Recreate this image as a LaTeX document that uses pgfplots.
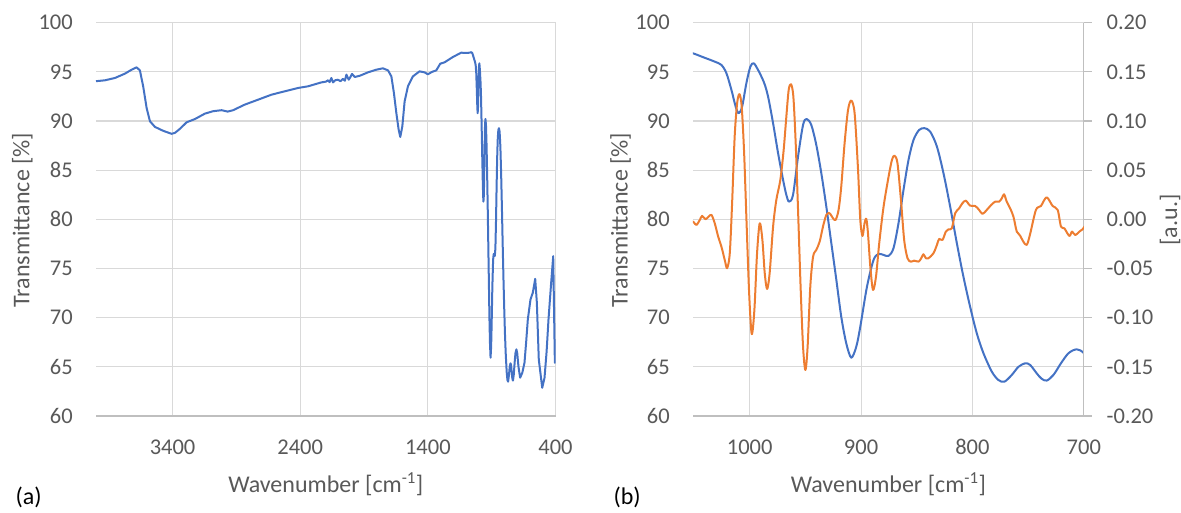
\documentclass[border=0pt]{standalone}
\usepackage{fontspec}
\setmainfont{Carlito}
\usepackage{pgfplots}
\pgfplotsset{compat=1.18}
\usepackage{pgfplotstable}
\definecolor{xlblue}{HTML}{4472C4}
\definecolor{xlorange}{HTML}{ED7D31}
\definecolor{gridc}{HTML}{D9D9D9}
\definecolor{axisc}{HTML}{BFBFBF}
\definecolor{txt}{HTML}{595959}
\newcommand\tickfont{\fontsize{22.5bp}{27bp}\selectfont}
\newcommand\labfont{\fontsize{24bp}{29bp}\selectfont}

\pgfplotstableread{
wn T
4000 94.05
3930 94.14
3851 94.38
3773 94.82
3721 95.22
3682 95.46
3656 95.15
3630 93.5
3603 91.3
3577 89.97
3538 89.4
3473 89.0
3408 88.7
3382 88.79
3343 89.2
3290 89.87
3225 90.2
3147 90.75
3082 91.0
3016 91.1
2969 90.96
2926 91.1
2834 91.67
2730 92.17
2625 92.68
2521 93.02
2417 93.36
2339 93.53
2234 93.93
2200 94.0
2182 94.14
2170 93.95
2156 94.38
2143 93.93
2125 94.15
2104 94.2
2085 94.05
2065 94.28
2050 94.1
2038 94.72
2020 94.2
2008 94.45
1994 94.79
1973 94.48
1934 94.6
1869 94.95
1804 95.22
1752 95.36
1712 95.15
1686 94.54
1666 92.86
1647 90.82
1629 89.13
1616 88.38
1600 89.46
1582 92.0
1556 93.53
1517 94.54
1465 95.05
1426 94.95
1400 94.75
1369 94.99
1334 95.15
1303 95.83
1269 95.97
1204 96.51
1139 96.95
1100 96.92
1073 96.95
1060 97.0
1051.5 96.9
1042 96.5
1031.4 96.04
1025.4 95.7
1020.9 94.86
1016.4 93.16
1012.6 91.46
1009.9 90.79
1006.8 91.46
1003.0 93.84
999.4 95.53
996.4 95.87
992.5 95.2
987.1 93.9
983.5 92.48
979.0 89.77
974.5 86.72
970.0 84.0
967.1 82.48
964.7 81.8
961.1 82.48
956.6 86.38
952.1 89.6
948.9 90.21
944.7 89.6
940.2 87.57
935.7 84.69
931.2 81.29
926.7 77.57
922.2 73.84
917.8 70.1
913.3 67.39
908.8 65.93
904.3 67.05
900.7 69.08
894.7 73.15
888.8 75.87
884.3 76.48
879.8 76.38
875.3 76.28
870.9 77.06
866.4 79.6
861.9 82.99
857.4 86.04
852.9 88.08
847.8 89.1
843.0 89.27
837.9 88.92
831.9 87.4
826.0 84.69
820.0 81.29
814.0 77.57
808.1 74.17
802.1 71.12
796.1 68.41
790.1 66.38
782.6 64.51
776.7 63.66
771.3 63.49
764.7 64.17
758.7 65.0
752.7 65.36
748.2 65.19
742.3 64.34
738.0 63.8
733.3 63.6
727.1 64.2
720.3 65.4
713.6 66.4
706.4 66.78
700.0 66.4
690 65.0
677 63.89
660 64.4
643 65.42
630 67.5
617 69.8
596 71.85
578 72.53
559 73.95
546 71.5
531 65.75
504 62.87
486 63.89
470 66.5
455 69.8
436 73.2
418 76.25
405 65.42
400 65.4
}\bluedata

\pgfplotstableread{
wn v
1051.5 -0.002
1050.2 -0.003
1047.8 -0.0057
1044.8 -0.0006
1042.7 0.0035
1039.7 0.0001
1036.8 0.0028
1034.3 0.0045
1031.4 -0.004
1028.3 -0.0176
1025.4 -0.0278
1022.4 -0.0413
1020.3 -0.0497
1017.9 -0.0345
1015.8 0.0164
1013.5 0.0841
1011.3 0.118
1009.2 0.1273
1007.2 0.1147
1005.0 0.0673
1002.7 -0.0074
1000.5 -0.0752
998.2 -0.1166
995.8 -0.0922
993.4 -0.0345
991.0 -0.004
988.6 -0.021
986.5 -0.0548
984.4 -0.0708
982.1 -0.0548
979.0 -0.0074
976.1 0.0197
972.5 0.0401
969.5 0.0706
967.1 0.1045
965.0 0.1316
962.9 0.1374
960.8 0.1248
958.7 0.0774
956.6 0.0096
954.3 -0.0685
952.1 -0.1295
950.0 -0.1532
948.0 -0.1295
945.6 -0.0685
943.1 -0.038
940.2 -0.0311
937.2 -0.0227
934.2 -0.0074
931.2 0.0045
928.3 0.0062
925.2 0.0011
922.9 -0.0006
920.2 0.0096
917.8 0.0333
914.8 0.0774
911.7 0.1113
908.8 0.1208
905.8 0.1079
902.8 0.0520
900.7 -0.0006
898.7 -0.0169
896.9 -0.004
895.3 0.0004
893.8 -0.0142
891.7 -0.0481
889.3 -0.0718
886.6 -0.0583
883.7 -0.0243
879.8 0.0129
875.3 0.0434
872.3 0.0604
870.0 0.0648
867.3 0.0570
864.2 0.0197
861.3 -0.021
858.3 -0.0396
855.3 -0.043
852.3 -0.042
848.4 -0.043
846.0 -0.0396
844.0 -0.0355
841.8 -0.0396
839.5 -0.0396
835.0 -0.0345
831.9 -0.026
829.9 -0.0199
826.9 -0.021
823.9 -0.0125
821.5 -0.0101
818.5 -0.0091
815.5 0.0062
811.9 0.0113
809.0 0.0164
805.9 0.019
802.1 0.0139
797.6 0.0136
794.0 0.0096
791.0 0.0055
787.1 0.0096
783.2 0.0146
779.6 0.018
776.0 0.018
773.6 0.0215
771.6 0.0255
769.2 0.018
766.2 0.0113
763.2 0.0028
760.2 -0.0125
757.2 -0.0166
754.3 -0.0227
751.2 -0.026
748.2 -0.0149
743.0 0.0096
738.5 0.0136
733.4 0.0224
728.0 0.0136
723.5 0.0096
720.5 -0.0074
717.5 -0.0091
713.0 -0.0169
710.6 -0.0125
707.6 -0.016
704.0 -0.0125
701.1 -0.0101
698.4 -0.0057
}\orangedata

\pgfplotsset{
  panel/.style={
    scale only axis, height=393.3bp, anchor=south west,
    ymin=60, ymax=100, ytick={60,65,70,75,80,85,90,95,100},
    yticklabels={60,65,70,75,80,85,90,95,100},
    x dir=reverse,
    grid=major, major grid style={draw=gridc, line width=1.1bp},
    axis x line*=bottom, axis y line*=left,
    x axis line style={draw=axisc, line width=1.1bp},
    y axis line style={draw=none},
    major tick length=0pt,
    tick label style={font=\tickfont, text=txt, inner sep=0pt},
    xticklabel style={anchor=base, yshift=-38.5bp},
    yticklabel style={anchor=east, xshift=-23bp},
  }
}

\begin{document}
\begin{tikzpicture}[x=1bp,y=1bp]
\useasboundingbox (0,0) rectangle (1181,513);

\begin{axis}[panel, at={(96bp,97bp)}, width=459.5bp,
  xmin=400, xmax=4000, xtick={400,1400,2400,3400},
  xticklabels={400,1400,2400,3400}]
\addplot[xlblue, line width=2bp, line join=round] table[x=wn,y=T]{\bluedata};
\end{axis}

\begin{axis}[panel, at={(692.9bp,97bp)}, width=390.9bp,
  xmin=700, xmax=1051, xtick={700,800,900,1000},
  xticklabels={700,800,900,1000}]
\addplot[xlblue, line width=2bp, smooth, line join=round] table[x=wn,y=T]{\bluedata};
\end{axis}

\begin{axis}[scale only axis, at={(692.9bp,97bp)}, anchor=south west,
  width=390.9bp, height=393.3bp,
  xmin=700, xmax=1051, x dir=reverse, hide x axis,
  axis y line*=right, ymin=-0.2, ymax=0.2,
  ytick={-0.2,-0.15,-0.1,-0.05,0,0.05,0.1,0.15,0.2},
  yticklabels={-0.20,-0.15,-0.10,-0.05,0.00,0.05,0.10,0.15,0.20},
  y axis line style={draw=axisc, line width=1.1bp},
  tick align=outside, major tick length=8bp,
  ytick style={draw=axisc, line width=1.1bp},
  yticklabel style={font=\tickfont, text=txt, inner sep=0pt, anchor=west, xshift=14.6bp}]
\addplot[xlorange, line width=2bp, smooth, line join=round] table[x=wn,y=v]{\orangedata};
\end{axis}

\node[anchor=base, font=\labfont, text=txt] at (325.8,20.3) {Wavenumber [cm\textsuperscript{-1}]};
\node[anchor=base, font=\labfont, text=txt] at (888.4,20.3) {Wavenumber [cm\textsuperscript{-1}]};
\node[rotate=90, anchor=base, font=\labfont, text=txt] at (29.4,293) {Transmittance [\%]};
\node[rotate=90, anchor=base, font=\labfont, text=txt] at (627.7,293) {Transmittance [\%]};
\node[rotate=90, anchor=base, font=\labfont, text=txt] at (1177,293) {[a.u.]};
\node[anchor=base west, font=\labfont] at (12,8) {(a)};
\node[anchor=base west, font=\labfont] at (610,8) {(b)};
\end{tikzpicture}
\end{document}
